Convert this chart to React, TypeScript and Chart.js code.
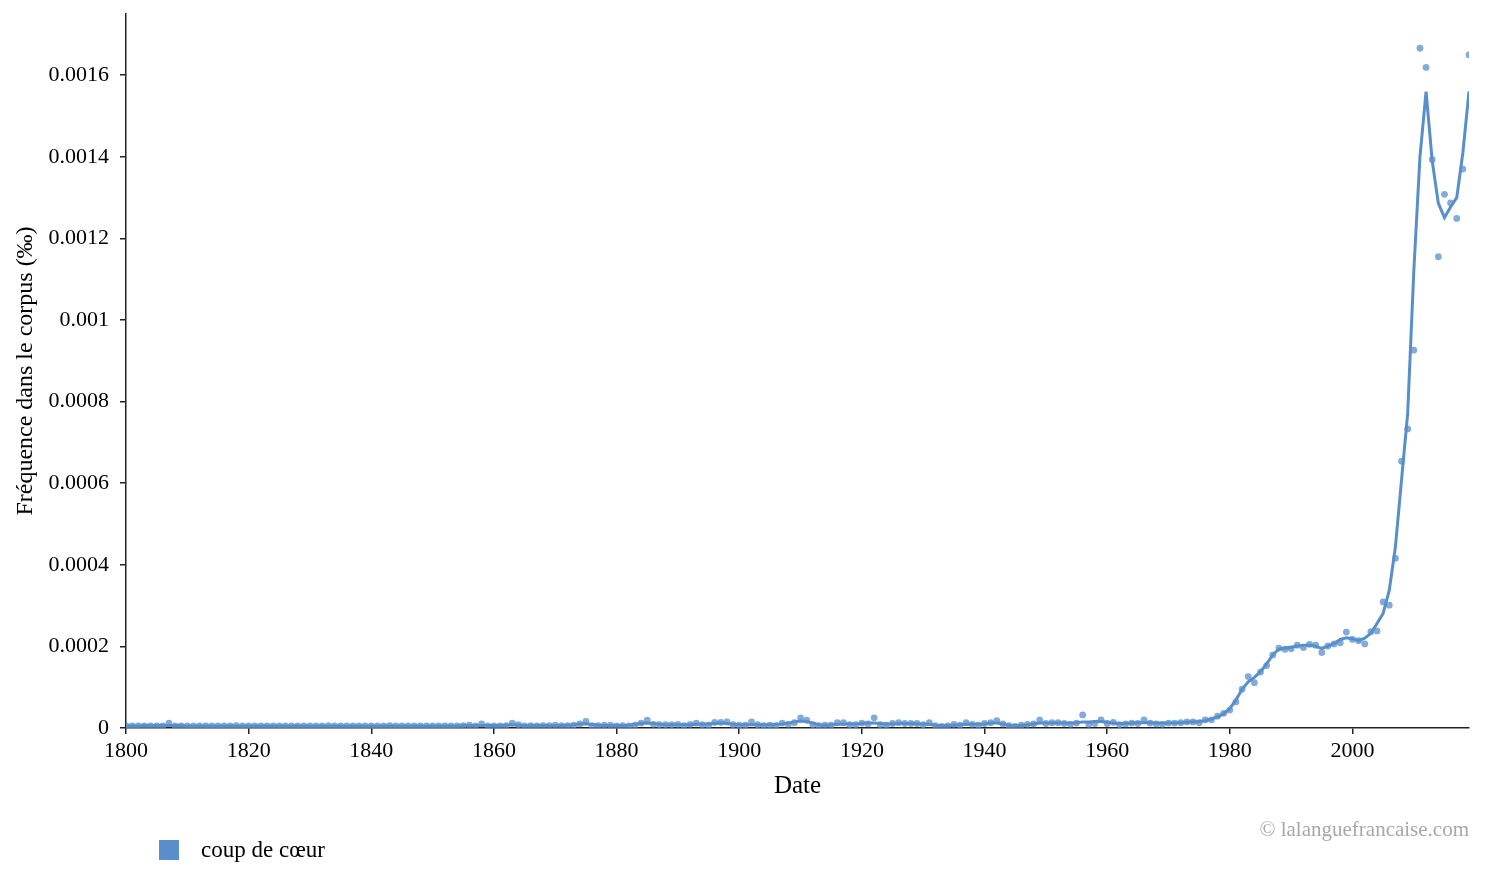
import React, { useEffect, useRef } from "react";
import Chart from "chart.js/auto";

// one value per year, 1800 to 2019
const years = Array.from({ length: 220 }, (_, i) => 1800 + i);

// yearly frequency (dots)
const yearlyFreq = [
  5e-6, 5e-6, 5e-6, 5e-6, 5e-6, 5e-6, 5e-6, 12e-6, 5e-6, 5e-6,
  5e-6, 5e-6, 5e-6, 5e-6, 5e-6, 5e-6, 5e-6, 5e-6, 6e-6, 5e-6,
  5e-6, 5e-6, 5e-6, 5e-6, 5e-6, 5e-6, 5e-6, 5e-6, 5e-6, 5e-6,
  5e-6, 5e-6, 5e-6, 6e-6, 5e-6, 5e-6, 5e-6, 5e-6, 5e-6, 5e-6,
  5e-6, 5e-6, 5e-6, 6e-6, 5e-6, 5e-6, 5e-6, 5e-6, 5e-6, 5e-6,
  5e-6, 5e-6, 5e-6, 5e-6, 5e-6, 6e-6, 7e-6, 5e-6, 10e-6, 5e-6,
  5e-6, 5e-6, 6e-6, 12e-6, 8e-6, 5e-6, 6e-6, 5e-6, 6e-6, 6e-6,
  7e-6, 6e-6, 6e-6, 7e-6, 10e-6, 16e-6, 5e-6, 6e-6, 7e-6, 7e-6,
  5e-6, 6e-6, 5e-6, 7e-6, 12e-6, 19e-6, 9e-6, 8e-6, 8e-6, 8e-6,
  9e-6, 6e-6, 9e-6, 12e-6, 8e-6, 7e-6, 14e-6, 14e-6, 15e-6, 8e-6,
  7e-6, 7e-6, 15e-6, 8e-6, 6e-6, 7e-6, 6e-6, 12e-6, 9e-6, 13e-6,
  25e-6, 19e-6, 8e-6, 6e-6, 7e-6, 7e-6, 13e-6, 13e-6, 8e-6, 8e-6,
  12e-6, 10e-6, 25e-6, 8e-6, 7e-6, 11e-6, 13e-6, 11e-6, 11e-6, 11e-6,
  8e-6, 13e-6, 6e-6, 4e-6, 5e-6, 9e-6, 7e-6, 13e-6, 9e-6, 7e-6,
  11e-6, 13e-6, 18e-6, 10e-6, 6e-6, 4e-6, 7e-6, 9e-6, 10e-6, 20e-6,
  11e-6, 13e-6, 13e-6, 11e-6, 9e-6, 12e-6, 32e-6, 9e-6, 11e-6, 20e-6,
  11e-6, 14e-6, 8e-6, 10e-6, 12e-6, 11e-6, 20e-6, 12e-6, 10e-6, 9e-6,
  12e-6, 12e-6, 13e-6, 15e-6, 15e-6, 13e-6, 20e-6, 20e-6, 29e-6, 36e-6,
  44e-6, 64e-6, 95e-6, 126e-6, 111e-6, 137e-6, 153e-6, 179e-6, 196e-6, 193e-6,
  194e-6, 203e-6, 197e-6, 205e-6, 203e-6, 185e-6, 201e-6, 206e-6, 209e-6, 235e-6,
  217e-6, 214e-6, 206e-6, 236e-6, 238e-6, 309e-6, 301e-6, 416e-6, 654e-6, 733e-6,
  926e-6, 1666e-6, 1619e-6, 1393e-6, 1155e-6, 1308e-6, 1287e-6, 1249e-6, 1370e-6, 1650e-6,
];

// smoothed curve
const smoothedFreq = [
  5e-6, 5e-6, 5e-6, 6e-6, 6e-6, 6e-6, 6e-6, 6e-6, 6e-6, 6e-6,
  5e-6, 5e-6, 5e-6, 5e-6, 5e-6, 5e-6, 5e-6, 5e-6, 5e-6, 5e-6,
  5e-6, 5e-6, 5e-6, 5e-6, 5e-6, 5e-6, 5e-6, 5e-6, 5e-6, 5e-6,
  5e-6, 5e-6, 5e-6, 5e-6, 5e-6, 5e-6, 5e-6, 5e-6, 5e-6, 5e-6,
  5e-6, 5e-6, 5e-6, 5e-6, 5e-6, 5e-6, 5e-6, 5e-6, 5e-6, 5e-6,
  5e-6, 5e-6, 5e-6, 5e-6, 5e-6, 6e-6, 6e-6, 6e-6, 6e-6, 6e-6,
  6e-6, 6e-6, 7e-6, 8e-6, 7e-6, 6e-6, 6e-6, 6e-6, 6e-6, 6e-6,
  6e-6, 6e-6, 7e-6, 8e-6, 10e-6, 10e-6, 9e-6, 7e-6, 6e-6, 6e-6,
  6e-6, 6e-6, 7e-6, 9e-6, 11e-6, 12e-6, 11e-6, 9e-6, 8e-6, 8e-6,
  8e-6, 8e-6, 8e-6, 9e-6, 9e-6, 10e-6, 11e-6, 12e-6, 11e-6, 9e-6,
  8e-6, 8e-6, 8e-6, 8e-6, 8e-6, 8e-6, 9e-6, 10e-6, 12e-6, 15e-6,
  17e-6, 16e-6, 12e-6, 8e-6, 7e-6, 8e-6, 9e-6, 10e-6, 10e-6, 10e-6,
  11e-6, 12e-6, 12e-6, 11e-6, 10e-6, 10e-6, 11e-6, 11e-6, 11e-6, 10e-6,
  10e-6, 9e-6, 7e-6, 6e-6, 6e-6, 7e-6, 8e-6, 9e-6, 9e-6, 9e-6,
  10e-6, 12e-6, 12e-6, 10e-6, 7e-6, 6e-6, 6e-6, 8e-6, 10e-6, 12e-6,
  12e-6, 12e-6, 12e-6, 12e-6, 12e-6, 13e-6, 15e-6, 15e-6, 16e-6, 16e-6,
  14e-6, 12e-6, 11e-6, 11e-6, 12e-6, 13e-6, 13e-6, 13e-6, 12e-6, 12e-6,
  12e-6, 12e-6, 13e-6, 14e-6, 15e-6, 16e-6, 18e-6, 22e-6, 27e-6, 35e-6,
  48e-6, 69e-6, 95e-6, 113e-6, 124e-6, 138e-6, 157e-6, 179e-6, 193e-6, 196e-6,
  198e-6, 201e-6, 203e-6, 203e-6, 200e-6, 195e-6, 201e-6, 207e-6, 217e-6, 221e-6,
  219e-6, 214e-6, 220e-6, 232e-6, 256e-6, 281e-6, 338e-6, 444e-6, 608e-6, 771e-6,
  1120e-6, 1400e-6, 1560e-6, 1390e-6, 1286e-6, 1251e-6, 1277e-6, 1300e-6, 1410e-6, 1560e-6,
];

const xTicks = [1800, 1820, 1840, 1860, 1880, 1900, 1920, 1940, 1960, 1980, 2000];
const yTicks = [0, 0.0002, 0.0004, 0.0006, 0.0008, 0.001, 0.0012, 0.0014, 0.0016];
const yTickLabels = ["0", "0.0002", "0.0004", "0.0006", "0.0008", "0.001", "0.0012", "0.0014", "0.0016"];

const seriesLabel = "coup de cœur";
const blue = "rgb(88, 143, 203)";
const font = "Liberation Serif";

const extras = {
  id: "extras",
  afterDraw(chart: any) {
    const ctx = chart.ctx;
    ctx.save();
    ctx.fillStyle = blue;
    ctx.fillRect(159, 840, 20, 20);
    ctx.fillStyle = "#000";
    ctx.font = `23px "${font}"`;
    ctx.textBaseline = "alphabetic";
    ctx.textAlign = "left";
    ctx.fillText(seriesLabel, 201, 857);
    ctx.fillStyle = "#a8a8a8";
    ctx.font = `21px "${font}"`;
    ctx.textAlign = "right";
    ctx.fillText("© lalanguefrancaise.com", 1469, 836);
    ctx.restore();
  },
};

const App = () => {
  const chartRef = useRef<HTMLCanvasElement | null>(null);

  useEffect(() => {
    document.body.style.margin = "0";
    if (!chartRef.current) return;
    const ctx = chartRef.current.getContext("2d");
    if (!ctx) return;

    const axisStyle = {
      border: { display: true, color: "#222", width: 1.5 },
      grid: {
        display: true,
        drawOnChartArea: false,
        drawTicks: true,
        tickLength: 6,
        color: "#222",
        lineWidth: 1.5,
      },
    };

    const chart = new Chart(ctx, {
      type: "line",
      data: {
        datasets: [
          {
            label: seriesLabel,
            data: years.map((y, i) => ({ x: y, y: smoothedFreq[i] })),
            borderColor: blue,
            borderWidth: 3,
            pointRadius: 0,
            fill: false,
            tension: 0,
          },
          {
            label: seriesLabel + " (points)",
            data: years.map((y, i) => ({ x: y, y: yearlyFreq[i] })),
            showLine: false,
            pointRadius: 3.4,
            pointBorderWidth: 0,
            pointBackgroundColor: "rgba(88, 143, 203, 0.75)",
            borderColor: "rgba(88, 143, 203, 0.75)",
          },
        ],
      },
      options: {
        animation: false,
        responsive: false,
        devicePixelRatio: 1,
        layout: { padding: { top: 14, right: 16, bottom: 86, left: 0 } },
        plugins: {
          legend: { display: false },
          tooltip: { enabled: false },
        },
        scales: {
          x: {
            type: "linear",
            min: 1800,
            max: 2019,
            ...axisStyle,
            afterBuildTicks: (scale: any) => {
              scale.ticks = xTicks.map((v) => ({ value: v }));
            },
            afterFit: (scale: any) => {
              scale.height = 73;
              scale.paddingLeft = 0;
              scale.paddingRight = 0;
            },
            ticks: {
              color: "#000",
              padding: 4,
              maxRotation: 0,
              font: { family: font, size: 22 },
              callback: (v: any) => String(v),
            },
            title: {
              display: true,
              text: "Date",
              color: "#000",
              padding: { top: 0, bottom: 0 },
              font: { family: font, size: 25 },
            },
          },
          y: {
            type: "linear",
            min: 0,
            max: 0.00175,
            ...axisStyle,
            afterBuildTicks: (scale: any) => {
              scale.ticks = yTicks.map((v) => ({ value: v }));
            },
            afterFit: (scale: any) => {
              scale.width = 126;
              scale.paddingTop = 0;
              scale.paddingBottom = 0;
            },
            ticks: {
              color: "#000",
              padding: 11,
              font: { family: font, size: 22 },
              callback: (v: any) => {
                const i = yTicks.findIndex((t) => Math.abs(t - v) < 1e-9);
                return i >= 0 ? yTickLabels[i] : "";
              },
            },
            title: {
              display: true,
              text: "Fréquence dans le corpus (‰)",
              color: "#000",
              padding: { top: 11, bottom: 0 },
              font: { family: font, size: 24 },
            },
          },
        },
      },
      plugins: [extras],
    });

    return () => {
      chart.destroy();
    };
  }, []);

  return (
    <canvas
      ref={chartRef}
      width={1485}
      height={887}
      style={{ display: "block", width: 1485, height: 887 }}
    />
  );
};

export default App;
